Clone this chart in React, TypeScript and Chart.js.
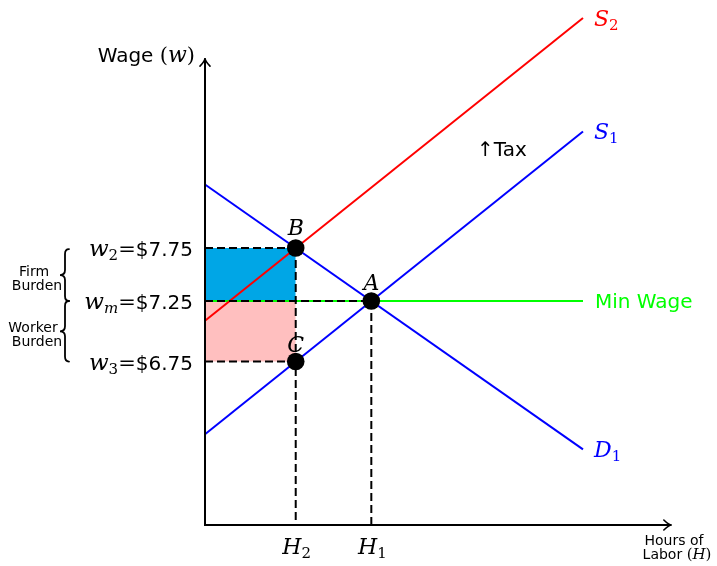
import React, { useEffect, useRef } from 'react';
import { Chart, registerables } from 'chart.js';

Chart.register(...registerables);

// ---- data (plot units) ----
const curveHours = [0, 10];
const demandD1 = [9.0, 2.0];
const supplyS1 = [2.4, 10.4];
const supplyS2 = [5.4, 13.4];
const wageLevels = [7.32, 5.92, 4.32]; // w2, wm, w3
const wageSubs = ['2', 'm', '3'];
const wageValues = ['$7.75', '$7.25', '$6.75'];
const hourLevels = [2.4, 4.4]; // H2, H1
const hourSubs = ['2', '1'];
const pointNames = ['A', 'B', 'C'];
const pointX = [4.4, 2.4, 2.4];
const pointY = [5.92, 7.32, 4.32];
const axisMaxX = 12.35;
const axisMaxY = 12.34;

const SANS = '"DejaVu Sans"';
const SERIF = '"DejaVu Serif"';
const mi = (s: number) => `italic ${s}px ${SERIF}`;
const rm = (s: number) => `${s}px ${SERIF}`;
const sf = (s: number) => `${s}px ${SANS}`;

type Seg = { t: string; f: string; dy?: number };
function drawRich(ctx: CanvasRenderingContext2D, segs: Seg[], x: number, y: number, align: string, color: string) {
  ctx.save();
  ctx.fillStyle = color;
  ctx.textAlign = 'left';
  ctx.textBaseline = 'alphabetic';
  let w = 0;
  for (const s of segs) { ctx.font = s.f; w += ctx.measureText(s.t).width; }
  let cx = align === 'left' ? x : align === 'center' ? x - w / 2 : x - w;
  for (const s of segs) {
    ctx.font = s.f;
    ctx.fillText(s.t, cx, y + (s.dy || 0));
    cx += ctx.measureText(s.t).width;
  }
  ctx.restore();
}

function brace(ctx: CanvasRenderingContext2D, xs: number, y1: number, y2: number) {
  const ym = (y1 + y2) / 2;
  ctx.beginPath();
  ctx.moveTo(xs + 4, y1);
  ctx.quadraticCurveTo(xs, y1, xs, y1 + 5);
  ctx.lineTo(xs, ym - 5);
  ctx.quadraticCurveTo(xs, ym, xs - 5, ym);
  ctx.quadraticCurveTo(xs, ym, xs, ym + 5);
  ctx.lineTo(xs, y2 - 5);
  ctx.quadraticCurveTo(xs, y2, xs + 4, y2);
  ctx.stroke();
}

const decorPlugin = {
  id: 'decor',
  afterDatasetsDraw(chart: any) {
    const ctx: CanvasRenderingContext2D = chart.ctx;
    const xs = chart.scales.x;
    const ys = chart.scales.y;
    const x0 = xs.getPixelForValue(0);
    const y0 = ys.getPixelForValue(0);
    const xe = xs.getPixelForValue(axisMaxX);
    const ye = ys.getPixelForValue(axisMaxY);
    ctx.save();
    ctx.strokeStyle = '#000';
    ctx.lineWidth = 2;
    ctx.lineCap = 'butt';
    ctx.beginPath();
    ctx.moveTo(x0, y0 + 1); ctx.lineTo(x0, ye + 1);
    ctx.moveTo(x0 - 1, y0); ctx.lineTo(xe - 1, y0);
    ctx.stroke();
    ctx.lineWidth = 1.6;
    ctx.lineCap = 'round';
    ctx.beginPath();
    ctx.moveTo(x0 - 5, ye + 8); ctx.quadraticCurveTo(x0, ye + 3, x0, ye);
    ctx.quadraticCurveTo(x0, ye + 3, x0 + 5, ye + 8);
    ctx.moveTo(xe - 8, y0 - 5); ctx.quadraticCurveTo(xe - 3, y0, xe, y0);
    ctx.quadraticCurveTo(xe - 3, y0, xe - 8, y0 + 5);
    ctx.stroke();

    // axis titles
    drawRich(ctx, [{ t: 'Wage ', f: sf(20) }, { t: '(', f: rm(21) }, { t: 'w', f: mi(22) }, { t: ')', f: rm(21) }], x0 - 10, 62, 'right', '#000');
    drawRich(ctx, [{ t: 'Hours of', f: sf(14) }], 674, 545, 'center', '#000');
    drawRich(ctx, [{ t: 'Labor ', f: sf(14) }, { t: '(', f: rm(15) }, { t: 'H', f: mi(15) }, { t: ')', f: rm(15) }], 677, 559, 'center', '#000');

    // wage labels
    wageLevels.forEach((v, i) => {
      const py = ys.getPixelForValue(v);
      const subIt = /[a-z]/.test(wageSubs[i]);
      drawRich(ctx, [
        { t: 'w', f: mi(23) },
        { t: wageSubs[i], f: subIt ? mi(15) : rm(15), dy: 4 },
        { t: '=', f: rm(21) },
        { t: wageValues[i], f: sf(20) },
      ], x0 - 12, py + 8, 'right', '#000');
    });

    // hour labels
    hourLevels.forEach((v, i) => {
      const px = xs.getPixelForValue(v);
      drawRich(ctx, [{ t: 'H', f: mi(22) }, { t: hourSubs[i], f: rm(15), dy: 4 }], px + 1, y0 + 29, 'center', '#000');
    });

    // point labels
    const dyMap: Record<string, number> = { A: -11, B: -13, C: -10 };
    pointNames.forEach((n, i) => {
      const px = xs.getPixelForValue(pointX[i]);
      const py = ys.getPixelForValue(pointY[i]);
      drawRich(ctx, [{ t: n, f: mi(22) }], px, py + dyMap[n], 'center', '#000');
    });

    // curve labels
    const xEnd = xs.getPixelForValue(curveHours[1]);
    drawRich(ctx, [{ t: 'S', f: mi(22) }, { t: '2', f: rm(15), dy: 4 }], xEnd + 11, ys.getPixelForValue(supplyS2[1]) + 8, 'left', '#ff0000');
    drawRich(ctx, [{ t: 'S', f: mi(22) }, { t: '1', f: rm(15), dy: 4 }], xEnd + 11, ys.getPixelForValue(supplyS1[1]) + 7, 'left', '#0000ff');
    drawRich(ctx, [{ t: 'D', f: mi(22) }, { t: '1', f: rm(15), dy: 4 }], xEnd + 11, ys.getPixelForValue(demandD1[1]) + 8, 'left', '#0000ff');
    drawRich(ctx, [{ t: 'Min Wage', f: sf(20) }], xEnd + 12, ys.getPixelForValue(wageLevels[1]) + 7, 'left', '#00ff00');
    drawRich(ctx, [{ t: '↑Tax', f: sf(20) }], 477, 156, 'left', '#000');

    // burden labels and braces
    const yw2 = ys.getPixelForValue(wageLevels[0]);
    const ywm = ys.getPixelForValue(wageLevels[1]);
    const yw3 = ys.getPixelForValue(wageLevels[2]);
    ctx.lineWidth = 1.8;
    ctx.strokeStyle = '#000';
    ctx.lineCap = 'round';
    brace(ctx, 65, yw2 + 1, ywm);
    brace(ctx, 65, ywm, yw3);
    const m1 = (yw2 + ywm) / 2;
    const m2 = (ywm + yw3) / 2;
    drawRich(ctx, [{ t: 'Firm', f: sf(14) }], 34, m1 + 1, 'center', '#000');
    drawRich(ctx, [{ t: 'Burden', f: sf(14) }], 37, m1 + 15, 'center', '#000');
    drawRich(ctx, [{ t: 'Worker', f: sf(14) }], 33, m2 + 1, 'center', '#000');
    drawRich(ctx, [{ t: 'Burden', f: sf(14) }], 37, m2 + 15, 'center', '#000');
    ctx.restore();
  },
};

export default function App() {
  const ref = useRef<HTMLCanvasElement | null>(null);
  useEffect(() => {
    if (!ref.current) return;
    const [w2, wm, w3] = wageLevels;
    const [h2, h1] = hourLevels;
    const line = (data: { x: number; y: number }[], color: string, width: number, order: number, extra: any = {}) => ({
      data, showLine: true, borderColor: color, borderWidth: width, pointRadius: 0, fill: false, order, clip: false, ...extra,
    });
    const dash = { borderDash: [8, 4] };
    const chart = new Chart(ref.current, {
      type: 'scatter',
      data: {
        datasets: [
          line([{ x: 0, y: w2 }, { x: h2, y: w2 }], 'rgba(0,0,0,0)', 0, 10, { fill: { value: wm }, backgroundColor: '#00a6e6' }),
          line([{ x: 0, y: wm }, { x: h2, y: wm }], 'rgba(0,0,0,0)', 0, 10, { fill: { value: w3 }, backgroundColor: '#ffbfbf' }),
          line([{ x: curveHours[0], y: wm }, { x: curveHours[1], y: wm }], '#00ff00', 2.2, 6),
          line(curveHours.map((x, i) => ({ x, y: demandD1[i] })), '#0000ff', 2, 5),
          line(curveHours.map((x, i) => ({ x, y: supplyS1[i] })), '#0000ff', 2, 5),
          line(curveHours.map((x, i) => ({ x, y: supplyS2[i] })), '#ff0000', 2, 5),
          line([{ x: 0, y: w2 }, { x: h2, y: w2 }], '#000', 2, 2, dash),
          line([{ x: 0, y: w3 }, { x: h2, y: w3 }], '#000', 2, 2, dash),
          line([{ x: 0, y: wm }, { x: h1, y: wm }], '#000', 2, 2, dash),
          line([{ x: h2, y: w2 }, { x: h2, y: 0 }], '#000', 2, 2, dash),
          line([{ x: h1, y: wm }, { x: h1, y: 0 }], '#000', 2, 2, dash),
          {
            data: pointX.map((x, i) => ({ x, y: pointY[i] })),
            showLine: false, pointRadius: 8.8, pointBackgroundColor: '#000', pointBorderColor: '#000', pointBorderWidth: 0, order: 0, clip: false,
          },
        ] as any,
      },
      options: {
        animation: false,
        responsive: false,
        devicePixelRatio: 1,
        layout: { padding: { left: 205, right: 134, top: 18, bottom: 41 } },
        scales: {
          x: { type: 'linear', min: 0, max: 10, display: false },
          y: { type: 'linear', min: 0, max: 13.4, display: false },
        },
        plugins: { legend: { display: false }, tooltip: { enabled: false } },
        events: [],
      } as any,
      plugins: [decorPlugin],
    });
    return () => chart.destroy();
  }, []);
  return (
    <div style={{ position: 'absolute', left: 0, top: 0, width: 717, height: 566, background: '#fff' }}>
      <canvas ref={ref} width={717} height={566} style={{ display: 'block' }} />
    </div>
  );
}
